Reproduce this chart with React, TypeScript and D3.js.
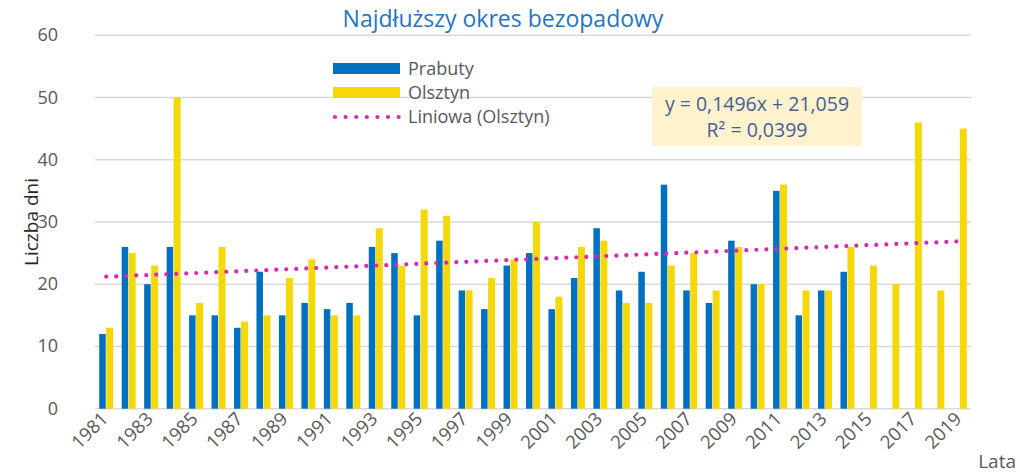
import React from "react";
import * as d3 from "d3";

const years: number[] = d3.range(1981, 2020);
const prabuty: (number | null)[] = [
  12, 26, 20, 26, 15, 15, 13, 22, 15, 17, 16, 17, 26, 25, 15, 27, 19, 16, 23, 25,
  16, 21, 29, 19, 22, 36, 19, 17, 27, 20, 35, 15, 19, 22, null, null, null, null, null,
];
const olsztyn: number[] = [
  13, 25, 23, 50, 17, 26, 14, 15, 21, 24, 15, 15, 29, 23, 32, 31, 19, 21, 24, 30,
  18, 26, 27, 17, 17, 23, 25, 19, 26, 20, 36, 19, 19, 26, 23, 20, 46, 19, 45,
];
const yTicks: number[] = [0, 10, 20, 30, 40, 50, 60];
const trendSlope = 0.1496;
const trendIntercept = 21.059;

const FONT = "'Open Sans', 'Noto Sans', sans-serif";

export default function App() {
  const W = 1020, H = 475;
  const left = 95, right = 971, top = 35.3, bottom = 408.7;
  const x = d3.scaleBand<number>().domain(years).range([left, right]).paddingInner(0).paddingOuter(0);
  const y = d3.scaleLinear().domain([0, 60]).range([bottom, top]);
  const bw = 7;
  const trendPts: [number, number][] = years.map((yr, i) => [x(yr)! + x.bandwidth() / 2, y(trendSlope * (i + 1) + trendIntercept)]);
  const line = d3.line<[number, number]>().x((d) => d[0]).y((d) => d[1]);
  const gray = "#595959";
  return (
    <svg width={W} height={H} style={{ position: "absolute", left: 0, top: 0, background: "#fff" }} fontFamily={FONT}>
      <rect width={W} height={H} fill="#fff" />
      <text x={503} y={27} textAnchor="middle" fontSize={23} fill="#1f76c2">Najdłuższy okres bezopadowy</text>
      {yTicks.map((t) => (
        <g key={t}>
          <line x1={left} x2={right} y1={y(t)} y2={y(t)} stroke="#d9d9d9" strokeWidth={1.6} />
          <text x={58} y={y(t) + 6} textAnchor="end" fontSize={18} fill={gray}>{t}</text>
        </g>
      ))}
      <text transform={`translate(38,${222}) rotate(-90)`} textAnchor="middle" fontSize={19} fill="#262626">Liczba dni</text>
      {years.map((yr, i) => {
        const cx = x(yr)! + x.bandwidth() / 2;
        const p = prabuty[i];
        const o = olsztyn[i];
        return (
          <g key={yr}>
            {p != null && <rect x={cx - bw} y={y(p)} width={bw - 0.5} height={bottom - y(p)} fill="#0070c0" />}
            <rect x={cx} y={y(o)} width={bw} height={bottom - y(o)} fill="#f5d80a" />
          </g>
        );
      })}
      <path d={line(trendPts)!} fill="none" stroke="#d62ab4" strokeWidth={4.2} strokeDasharray="0.01 10" strokeLinecap="round" />
      {years.filter((_, i) => i % 2 === 0).map((yr) => {
        const cx = x(yr)! + x.bandwidth() / 2;
        return (
          <text key={yr} transform={`translate(${cx + 3},${420}) rotate(-45)`} textAnchor="end" fontSize={18.5} fill={gray}>{yr}</text>
        );
      })}
      <text x={1016} y={468} textAnchor="end" fontSize={19} fill={gray}>Lata</text>
      {/* legend */}
      <rect x={333} y={63} width={67} height={11} fill="#0070c0" />
      <text x={408} y={75} fontSize={18} fill={gray}>Prabuty</text>
      <rect x={333} y={87} width={67} height={11} fill="#f5d80a" />
      <text x={408} y={99} fontSize={18} fill={gray}>Olsztyn</text>
      <line x1={335} x2={399} y1={117} y2={117} stroke="#d62ab4" strokeWidth={4.2} strokeDasharray="0.01 10.6" strokeLinecap="round" />
      <text x={408} y={123} fontSize={18} fill={gray}>Liniowa (Olsztyn)</text>
      {/* equation */}
      <rect x={652} y={87} width={210} height={59} fill="#fff2cc" />
      <text x={757} y={111} textAnchor="middle" fontSize={19.5} fill="#44609a">y = 0,1496x + 21,059</text>
      <text x={757} y={137} textAnchor="middle" fontSize={19.5} fill="#44609a">R² = 0,0399</text>
    </svg>
  );
}
